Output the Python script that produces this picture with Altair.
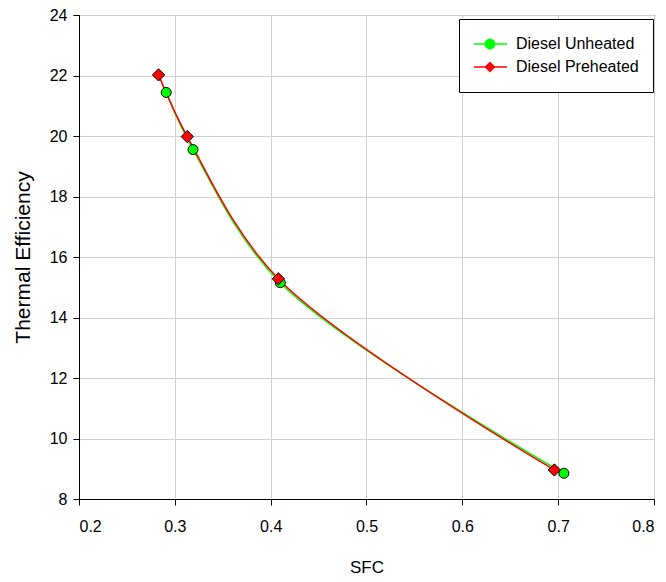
import altair as alt
import pandas as pd

series_names = ["Diesel Unheated", "Diesel Preheated"]
series_keys = ["u", "p"]
unheated_sfc = [0.291, 0.319, 0.410, 0.706]
unheated_te = [21.44, 19.55, 15.15, 8.85]
preheated_sfc = [0.283, 0.313, 0.408, 0.696]
preheated_te = [22.02, 19.98, 15.28, 8.96]
x_ticks = [0.2, 0.3, 0.4, 0.5, 0.6, 0.7, 0.8]
y_ticks = [8, 10, 12, 14, 16, 18, 20, 22, 24]

colors = ["#00ff00", "#ff0000"]
shapes = ["circle", "diamond"]
sizes = [100, 150]

rows = []
for s, k, xs, ys in [(series_names[0], series_keys[0], unheated_sfc, unheated_te),
                     (series_names[1], series_keys[1], preheated_sfc, preheated_te)]:
    for i, (a, b) in enumerate(zip(xs, ys)):
        rows.append({"series": s, "key": k, "sfc": a, "te": b, "ord": i})
df = pd.DataFrame(rows)

FONT = "Liberation Sans"

x_enc = alt.X("sfc:Q",
              scale=alt.Scale(domain=[0.2, 0.8], nice=False, zero=False),
              axis=alt.Axis(values=x_ticks, format=".1f", title="SFC",
                            labelPadding=13, titlePadding=25, titleFontSize=17))
y_enc = alt.Y("te:Q",
              scale=alt.Scale(domain=[8, 24], nice=False, zero=False),
              axis=alt.Axis(values=y_ticks, format="d", title="Thermal Efficiency",
                            labelPadding=6, titlePadding=16, titleFontSize=21))

base = alt.Chart(df)

# bottom legend: frame, white background, line symbols and the labels
lines = base.mark_line(interpolate="catmull-rom", strokeWidth=1.5).encode(
    x=x_enc, y=y_enc,
    color=alt.Color("series:N",
                    scale=alt.Scale(domain=series_names, range=colors),
                    legend=alt.Legend(title=None, orient="none", legendX=380, legendY=4,
                                      symbolType="stroke", symbolSize=1089,
                                      symbolStrokeWidth=1.5,
                                      labelFont=FONT, labelFontSize=16, labelColor="black",
                                      labelOffset=8, padding=14, clipHeight=22,
                                      rowPadding=1, strokeColor="black",
                                      fillColor="white")),
    order="ord:Q",
)

# top legend: only the markers, drawn over the line symbols
pt_legend = alt.Legend(title=None, orient="none", legendX=380, legendY=4,
                       symbolSize=120, symbolStrokeColor="black", symbolStrokeWidth=1,
                       symbolOffset=9,
                       labelFont=FONT, labelFontSize=16, labelOpacity=0,
                       labelOffset=8, padding=14, clipHeight=22, rowPadding=1)

fill_enc = alt.Fill("key:N", scale=alt.Scale(domain=series_keys, range=colors),
                    legend=pt_legend)
shape_enc = alt.Shape("key:N", scale=alt.Scale(domain=series_keys, range=shapes),
                      legend=pt_legend)

point_layers = []
for key, sz in zip(series_keys, sizes):
    point_layers.append(
        base.transform_filter(alt.datum.key == key)
        .mark_point(filled=True, stroke="black", strokeWidth=1, opacity=1, size=sz)
        .encode(x=x_enc, y=y_enc, fill=fill_enc, shape=shape_enc,
                stroke=alt.value("black"))
    )

chart = alt.layer(lines, *point_layers).properties(
    width=575, height=484,
    autosize=alt.AutoSizeParams(type="none"),
    padding={"left": 71, "top": 7, "right": 4, "bottom": 80},
).configure_view(
    stroke="black", strokeWidth=1
).configure_axis(
    domainColor="black", tickColor="black", tickSize=6, grid=True,
    gridColor="#d0d0d0", labelFont=FONT, labelFontSize=16, labelColor="black",
    titleFont=FONT, titleFontWeight="normal", titleColor="black",
)

chart.save("out.html", embed_options={"renderer": "svg", "actions": False})
